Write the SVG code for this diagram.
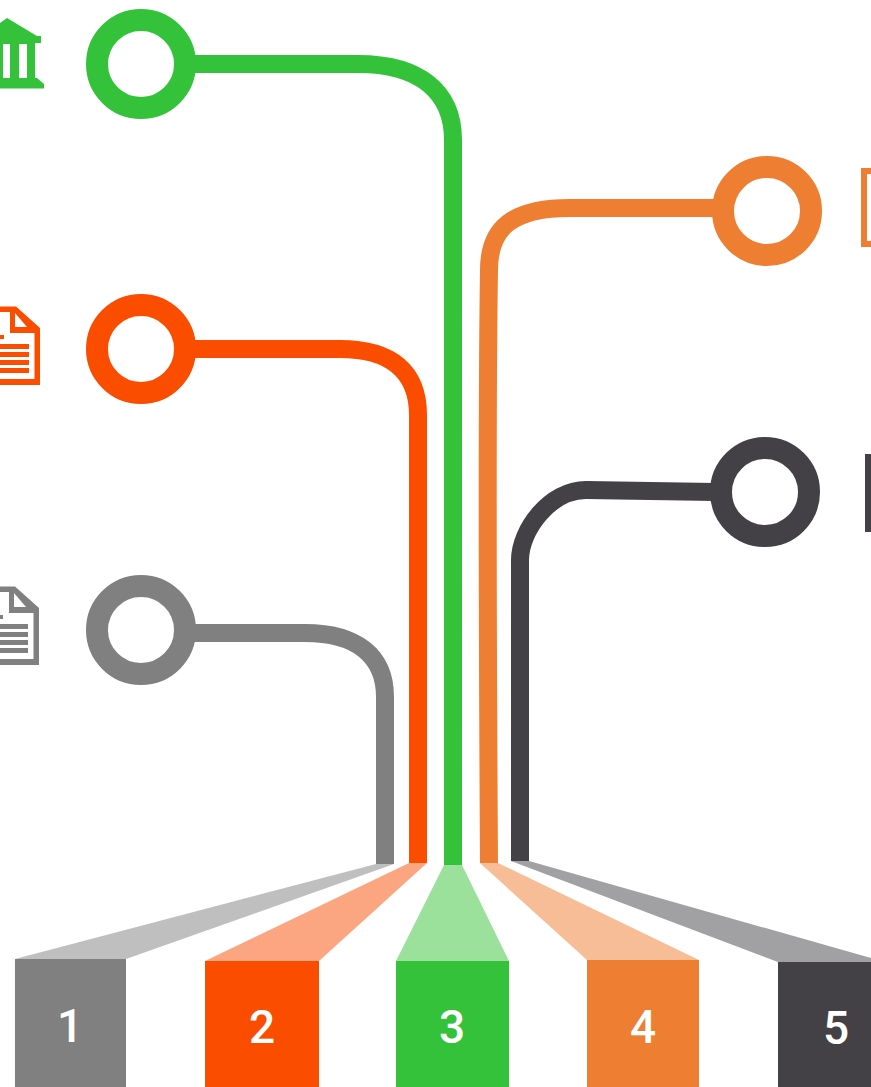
<svg xmlns="http://www.w3.org/2000/svg" width="871" height="1087" viewBox="0 0 871 1087">
<style>
.ring{fill:none;stroke-width:22}
.line{fill:none;stroke-width:18}
.num{font-family:Roboto,"Liberation Sans",sans-serif;font-size:46px;font-weight:500;fill:#fff;text-anchor:middle}
</style>
<defs>
<path id="doc" fill-rule="evenodd" d="M-2 306.500H16L40 328V385H-2V379H34.500V333H10V312H-2ZM15 313V327H27ZM-2 335H4V339H-2ZM-2 344H29V349H-2ZM-2 352H29V357H-2ZM-2 360H29V365H-2ZM-2 368H29V373H-2Z"/>
</defs>
<rect width="871" height="1087" fill="#fff"/>
<g id="connectors">
<path class="line" stroke="#34c23a" d="M190 64H358C420 64 453 92 453 140V865"/>
<path class="line" stroke="#fa4d00" d="M190 349H340C392 349 418 372 418 415V863"/>
<path class="line" stroke="#808080" d="M190 633H305C357 633 385 656 385 697V864"/>
<path class="line" stroke="#ee7e31" d="M720 208H570C512 208 489 228 489 270C487 400 488 700 489 863"/>
<path class="line" stroke="#434146" d="M715 492L586 490C550 490 520 530 520 560V861"/>
</g>
<g id="node-1">
<circle class="ring" stroke="#808080" cx="141" cy="630" r="44"/>
<use href="#doc" y="280" x="-1" fill="#808080"/>
<polygon fill="#bfbfbf" points="376,864 394,864 126,959 15,959"/>
<rect x="15" y="959" width="111" height="128" fill="#808080"/>
<text class="num" x="70" y="1042">1</text>
</g>
<g id="node-2">
<circle class="ring" stroke="#fa4d00" cx="141" cy="349" r="44"/>
<use href="#doc" fill="#fa4d00"/>
<polygon fill="#fba681" points="409,863 427,863 319,961 205,961"/>
<rect x="205" y="961" width="114" height="126" fill="#fa4d00"/>
<text class="num" x="262" y="1043">2</text>
</g>
<g id="node-3">
<circle class="ring" stroke="#34c23a" cx="141" cy="64" r="44"/>
<path fill="#34c23a" fill-rule="evenodd" d="M0 23L7 18L37 36H41V43H35V78H37L44 84V88.500H0ZM3 44V78H10V44ZM19 44V78H27V44Z"/>
<polygon fill="#9be09b" points="444,865 462,865 509,961 396,961"/>
<rect x="396" y="961" width="113" height="126" fill="#34c23a"/>
<text class="num" x="452" y="1043">3</text>
</g>
<g id="node-4">
<circle class="ring" stroke="#ee7e31" cx="767" cy="211" r="44"/>
<path fill="#ee7e31" d="M861 168H871V174H867V241H871V247H861Z"/>
<polygon fill="#f7bd96" points="480,863 498,863 699,960 587,960"/>
<rect x="587" y="960" width="112" height="127" fill="#ee7e31"/>
<text class="num" x="643" y="1043">4</text>
</g>
<g id="node-5">
<circle class="ring" stroke="#434146" cx="765" cy="492" r="44"/>
<rect x="865" y="454" width="6" height="78" fill="#434146"/>
<polygon fill="#a1a1a3" points="511,861 529,861 871,958 871,962 778,962"/>
<rect x="778" y="962" width="93" height="125" fill="#434146"/>
<text class="num" x="836" y="1044">5</text>
</g>
</svg>
